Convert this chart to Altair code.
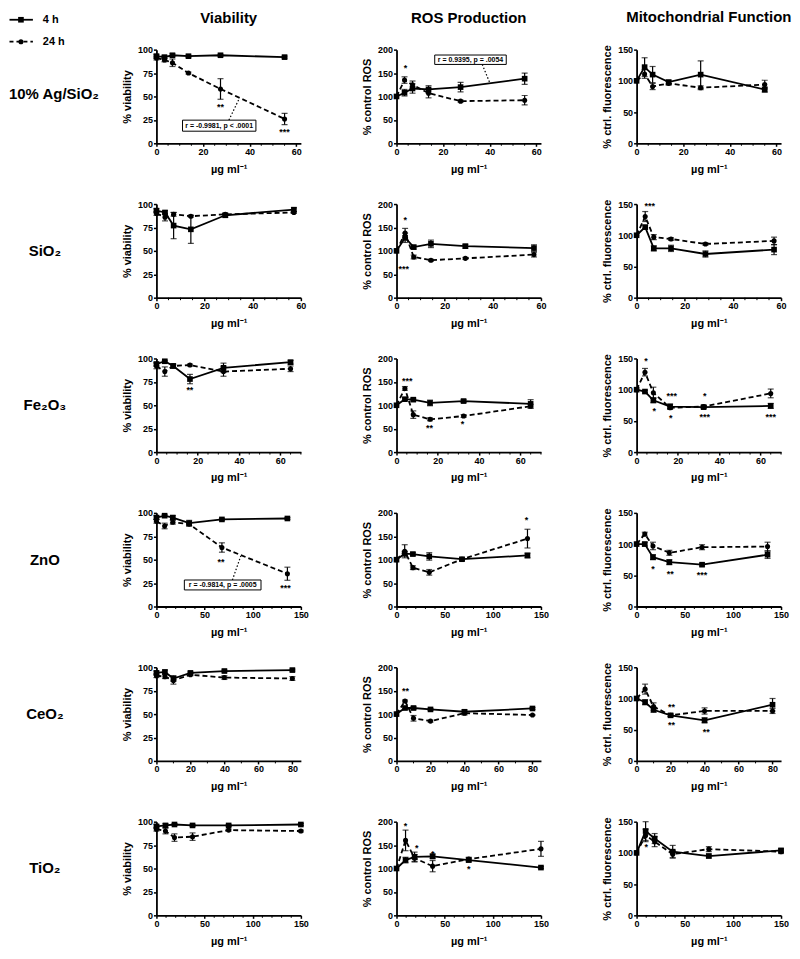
import altair as alt
import pandas as pd

FONT = "Liberation Sans"
PW, PH = 145, 94

MATERIALS = ["10% Ag/SiO₂", "SiO₂", "Fe₂O₃", "ZnO", "CeO₂", "TiO₂"]
ASSAYS = ["Viability", "ROS Production", "Mitochondrial Function"]
Y_TITLES = ["% viability", "% control ROS", "% ctrl. fluorescence"]
Y_DOMAINS = [[0, 100], [0, 200], [0, 150]]
Y_TICKS = [[0, 25, 50, 75, 100], [0, 50, 100, 150, 200], [0, 50, 100, 150]]
X_TITLE = "µg ml⁻¹"
LEGEND = ["4 h", "24 h"]

X_DOMAINS = [[0, 62], [0, 60], [0, 70], [0, 150], [0, 85], [0, 150]]
X_TICKS = [[0, 20, 40, 60], [0, 20, 40, 60], [0, 20, 40, 60],
           [0, 50, 100, 150], [0, 20, 40, 60, 80], [0, 50, 100, 150]]
X_MINOR = [[5, 10, 15, 25, 30, 35, 45, 50, 55],
           [5, 10, 15, 25, 30, 35, 45, 50, 55],
           [5, 10, 15, 25, 30, 35, 45, 50, 55, 65, 70],
           [10, 20, 30, 40, 60, 70, 80, 90, 110, 120, 130, 140],
           [10, 30, 50, 70],
           [10, 20, 30, 40, 60, 70, 80, 90, 110, 120, 130, 140]]

# ---- doses (µg/ml) ----
DOSE_AG = [0, 3.44, 6.875, 13.75, 27.5, 55]
DOSE_SI = [0, 3.57, 7.14, 14.3, 28.6, 57.1]
DOSE_FE = [0, 4.06, 8.125, 16.25, 32.5, 65]
DOSE_ZN = [0, 8.5, 17, 34, 68, 136]
DOSE_CE = [0, 5, 10, 20, 40, 80]
DOSE_TI = [0, 9.375, 18.75, 37.5, 75, 150]

# ---- 10% Ag/SiO2 ----
VIA_AG_4H = [93, 92, 94, 93, 94, 92]
VIA_AG_4H_ERR = [2, 1.5, 1.5, 1, 1, 1]
VIA_AG_24H = [91, 89, 86, 75, 58, 26]
VIA_AG_24H_ERR = [2, 2, 4, 1, 11, 6]
ROS_AG_4H = [100, 108, 117, 115, 120, 138]
ROS_AG_4H_ERR = [0, 7, 10, 8, 10, 12]
ROS_AG_24H = [100, 135, 125, 107, 90, 92]
ROS_AG_24H_ERR = [0, 7, 8, 10, 2, 10]
MIT_AG_4H = [100, 122, 110, 98, 110, 86]
MIT_AG_4H_ERR = [0, 15, 13, 3, 22, 4]
MIT_AG_24H = [100, 111, 91, 96, 89, 94]
MIT_AG_24H_ERR = [0, 7, 5, 3, 3, 7]

# ---- SiO2 ----
VIA_SI_4H = [93, 91, 77, 73, 88, 94]
VIA_SI_4H_ERR = [2, 2, 14, 15, 2, 2]
VIA_SI_24H = [90, 86, 89, 87, 89, 91]
VIA_SI_24H_ERR = [2, 4, 2, 1, 1, 1]
ROS_SI_4H = [100, 128, 108, 115, 110, 106]
ROS_SI_4H_ERR = [0, 10, 4, 8, 4, 7]
ROS_SI_24H = [100, 138, 87, 80, 84, 92]
ROS_SI_24H_ERR = [0, 10, 4, 2, 2, 5]
MIT_SI_4H = [100, 113, 79, 79, 70, 77]
MIT_SI_4H_ERR = [0, 3, 4, 5, 5, 8]
MIT_SI_24H = [100, 130, 97, 94, 86, 91]
MIT_SI_24H_ERR = [0, 8, 4, 2, 2, 6]

# ---- Fe2O3 ----
VIA_FE_4H = [94, 97, 92, 78, 90, 96]
VIA_FE_4H_ERR = [2, 1, 2, 5, 5, 2]
VIA_FE_24H = [92, 86, 92, 93, 86, 89]
VIA_FE_24H_ERR = [3, 5, 2, 1, 5, 3]
ROS_FE_4H = [100, 113, 112, 105, 109, 103]
ROS_FE_4H_ERR = [0, 3, 3, 6, 3, 9]
ROS_FE_24H = [100, 136, 80, 70, 77, 98]
ROS_FE_24H_ERR = [0, 4, 8, 3, 3, 4]
MIT_FE_4H = [100, 97, 83, 73, 72, 74]
MIT_FE_4H_ERR = [0, 2, 4, 4, 2, 4]
MIT_FE_24H = [100, 128, 95, 71, 73, 94]
MIT_FE_24H_ERR = [0, 6, 9, 2, 2, 7]

# ---- ZnO ----
VIA_ZN_4H = [95, 97, 95, 89, 93, 94]
VIA_ZN_4H_ERR = [2, 1, 2, 3, 1, 1]
VIA_ZN_24H = [91, 86, 90, 88, 63, 35]
VIA_ZN_24H_ERR = [2, 3, 2, 2, 5, 7]
ROS_ZN_4H = [100, 113, 112, 107, 101, 109]
ROS_ZN_4H_ERR = [0, 5, 3, 8, 3, 5]
ROS_ZN_24H = [100, 118, 83, 73, 101, 145]
ROS_ZN_24H_ERR = [0, 14, 4, 6, 3, 20]
MIT_ZN_4H = [100, 100, 79, 71, 67, 83]
MIT_ZN_4H_ERR = [0, 3, 4, 4, 2, 6]
MIT_ZN_24H = [100, 116, 97, 86, 95, 96]
MIT_ZN_24H_ERR = [0, 3, 6, 4, 4, 7]

# ---- CeO2 ----
VIA_CE_4H = [94, 95, 88, 94, 96, 97]
VIA_CE_4H_ERR = [2, 2, 3, 1, 1, 1]
VIA_CE_24H = [91, 90, 86, 92, 89, 88]
VIA_CE_24H_ERR = [2, 2, 4, 1, 2, 2]
ROS_CE_4H = [100, 113, 113, 110, 105, 112]
ROS_CE_4H_ERR = [0, 3, 3, 2, 4, 2]
ROS_CE_24H = [100, 128, 91, 85, 102, 98]
ROS_CE_24H_ERR = [0, 2, 6, 2, 4, 1]
MIT_CE_4H = [100, 94, 82, 73, 65, 90]
MIT_CE_4H_ERR = [0, 4, 4, 2, 4, 10]
MIT_CE_24H = [100, 115, 87, 73, 80, 80]
MIT_CE_24H_ERR = [0, 8, 6, 2, 5, 4]

# ---- TiO2 ----
VIA_TI_4H = [95, 96, 97, 96, 96, 97]
VIA_TI_4H_ERR = [2, 2, 1, 1, 1, 1]
VIA_TI_24H = [92, 90, 83, 84, 91, 90]
VIA_TI_24H_ERR = [2, 3, 4, 4, 1, 1]
ROS_TI_4H = [100, 118, 125, 126, 118, 102]
ROS_TI_4H_ERR = [0, 6, 10, 5, 4, 2]
ROS_TI_24H = [100, 160, 122, 105, 120, 142]
ROS_TI_24H_ERR = [0, 22, 8, 12, 4, 16]
MIT_TI_4H = [100, 135, 123, 102, 95, 104]
MIT_TI_4H_ERR = [0, 15, 8, 10, 3, 3]
MIT_TI_24H = [100, 128, 118, 98, 106, 102]
MIT_TI_24H_ERR = [0, 10, 8, 6, 4, 3]

# ---- significance marks (x, y, text) ----
STARS = {
    (0, 0): [(27.5, 39, "**"), (55, 12, "***")],
    (0, 1): [(3.8, 161, "*")],
    (1, 1): [(3.6, 165, "*"), (3.0, 62, "***")],
    (1, 2): [(5.5, 147, "***")],
    (2, 0): [(16.2, 66, "**")],
    (2, 1): [(5.2, 151, "***"), (16, 51, "**"), (32, 59, "*")],
    (2, 2): [(4.5, 146, "*"), (8.5, 66, "*"), (17, 90, "***"), (16.5, 55, "*"),
             (33, 90, "*"), (33, 56, "***"), (65, 56, "***")],
    (3, 0): [(67, 48, "**"), (134, 20, "***")],
    (3, 1): [(135, 185, "*")],
    (3, 2): [(17, 60, "*"), (35, 52, "**"), (68, 50, "***")],
    (4, 1): [(5.3, 150, "**")],
    (4, 2): [(20.6, 86, "**"), (20.6, 57, "**"), (41, 46, "**")],
    (5, 1): [(9.4, 190, "*"), (21, 143, "*"), (37.5, 130, "*"), (75, 98, "*")],
    (5, 2): [(10, 110, "*")],
}

# ---- correlation boxes: text, box x1,x2,y1,y2, leader x1,y1,x2,y2 ----
BOXES = {
    (0, 0): ("r = -0.9981, p < .0001", 11.2, 42.7, 12.9, 24.7, 31.1, 24.7, 35.4, 47),
    (0, 1): ("r = 0.9395, p = .0054", 16.4, 47.1, 168.4, 188.5, 36.8, 168.4, 40.2, 127),
    (3, 0): ("r = -0.9814, p = .0005", 29, 108.6, 17.7, 28.3, 78.9, 28.3, 87.6, 54),
}

DOSES = [DOSE_AG, DOSE_SI, DOSE_FE, DOSE_ZN, DOSE_CE, DOSE_TI]
VALUES = [
    [(VIA_AG_4H, VIA_AG_4H_ERR, VIA_AG_24H, VIA_AG_24H_ERR),
     (ROS_AG_4H, ROS_AG_4H_ERR, ROS_AG_24H, ROS_AG_24H_ERR),
     (MIT_AG_4H, MIT_AG_4H_ERR, MIT_AG_24H, MIT_AG_24H_ERR)],
    [(VIA_SI_4H, VIA_SI_4H_ERR, VIA_SI_24H, VIA_SI_24H_ERR),
     (ROS_SI_4H, ROS_SI_4H_ERR, ROS_SI_24H, ROS_SI_24H_ERR),
     (MIT_SI_4H, MIT_SI_4H_ERR, MIT_SI_24H, MIT_SI_24H_ERR)],
    [(VIA_FE_4H, VIA_FE_4H_ERR, VIA_FE_24H, VIA_FE_24H_ERR),
     (ROS_FE_4H, ROS_FE_4H_ERR, ROS_FE_24H, ROS_FE_24H_ERR),
     (MIT_FE_4H, MIT_FE_4H_ERR, MIT_FE_24H, MIT_FE_24H_ERR)],
    [(VIA_ZN_4H, VIA_ZN_4H_ERR, VIA_ZN_24H, VIA_ZN_24H_ERR),
     (ROS_ZN_4H, ROS_ZN_4H_ERR, ROS_ZN_24H, ROS_ZN_24H_ERR),
     (MIT_ZN_4H, MIT_ZN_4H_ERR, MIT_ZN_24H, MIT_ZN_24H_ERR)],
    [(VIA_CE_4H, VIA_CE_4H_ERR, VIA_CE_24H, VIA_CE_24H_ERR),
     (ROS_CE_4H, ROS_CE_4H_ERR, ROS_CE_24H, ROS_CE_24H_ERR),
     (MIT_CE_4H, MIT_CE_4H_ERR, MIT_CE_24H, MIT_CE_24H_ERR)],
    [(VIA_TI_4H, VIA_TI_4H_ERR, VIA_TI_24H, VIA_TI_24H_ERR),
     (ROS_TI_4H, ROS_TI_4H_ERR, ROS_TI_24H, ROS_TI_24H_ERR),
     (MIT_TI_4H, MIT_TI_4H_ERR, MIT_TI_24H, MIT_TI_24H_ERR)],
]


def series_df(dose, mean, err):
    return pd.DataFrame({
        "dose": dose,
        "mean": mean,
        "err": err,
        "lo": [m - e for m, e in zip(mean, err)],
        "hi": [m + e for m, e in zip(mean, err)],
    })


def panel(r, c):
    dose = DOSES[r]
    m4, e4, m24, e24 = VALUES[r][c]
    xs = alt.Scale(domain=X_DOMAINS[r], nice=False, zero=False)
    ys = alt.Scale(domain=Y_DOMAINS[c], nice=False, zero=False)

    def X(f):
        return alt.X(f, type="quantitative", scale=xs,
                     axis=alt.Axis(values=X_TICKS[r], title=X_TITLE))

    def Y(f):
        return alt.Y(f, type="quantitative", scale=ys,
                     axis=alt.Axis(values=Y_TICKS[c], title=Y_TITLES[c]))

    d4 = series_df(dose, m4, e4)
    d24 = series_df(dose, m24, e24)
    eb = pd.concat([d4, d24])
    eb = eb[eb["err"] > 0]
    caps = pd.DataFrame({"dose": list(eb["dose"]) * 2, "v": list(eb["lo"]) + list(eb["hi"])})

    layers = [
        alt.Chart(d24).mark_line(color="black", strokeWidth=1.8, strokeDash=[5, 3]).encode(
            x=X("dose"), y=Y("mean")),
        alt.Chart(d4).mark_line(color="black", strokeWidth=1.8).encode(x=X("dose"), y=Y("mean")),
        alt.Chart(eb).mark_rule(color="black", strokeWidth=1.2).encode(
            x=X("dose"), y=Y("lo"), y2=alt.Y2("hi")),
        alt.Chart(caps).mark_tick(orient="horizontal", size=6, thickness=1.2, color="black").encode(
            x=X("dose"), y=Y("v")),
        alt.Chart(d24).mark_point(shape="circle", filled=True, size=26, color="black", opacity=1).encode(
            x=X("dose"), y=Y("mean")),
        alt.Chart(d4).mark_point(shape="square", filled=True, size=32, color="black", opacity=1).encode(
            x=X("dose"), y=Y("mean")),
        alt.Chart(pd.DataFrame({"m": X_MINOR[r]})).mark_rule(color="black", strokeWidth=1).encode(
            x=X("m"), y=alt.value(PH), y2=alt.value(PH + 2.5)),
    ]
    if (r, c) in STARS:
        s = STARS[(r, c)]
        sdf = pd.DataFrame({"x": [a[0] for a in s], "y": [a[1] for a in s], "t": [a[2] for a in s]})
        layers.append(alt.Chart(sdf).mark_text(font=FONT, fontSize=9, fontWeight="bold", color="black",
                                               baseline="middle").encode(
            x=X("x"), y=Y("y"), text="t:N"))
    if (r, c) in BOXES:
        t, bx1, bx2, by1, by2, lx1, ly1, lx2, ly2 = BOXES[(r, c)]
        bdf = pd.DataFrame({"x1": [bx1], "x2": [bx2], "y1": [by1], "y2": [by2],
                            "xc": [(bx1 + bx2) / 2], "yc": [(by1 + by2) / 2], "t": [t],
                            "lx1": [lx1], "ly1": [ly1], "lx2": [lx2], "ly2": [ly2]})
        layers.append(alt.Chart(bdf).mark_rule(color="black", strokeWidth=1.2, strokeDash=[1.5, 2]).encode(
            x=X("lx1"), y=Y("ly1"), x2=alt.X2("lx2"), y2=alt.Y2("ly2")))
        layers.append(alt.Chart(bdf).mark_rect(fill="white", stroke="black", strokeWidth=1).encode(
            x=X("x1"), x2=alt.X2("x2"), y=Y("y1"), y2=alt.Y2("y2")))
        layers.append(alt.Chart(bdf).mark_text(font=FONT, fontSize=7, fontWeight="bold", color="black",
                                               baseline="middle").encode(
            x=X("xc"), y=Y("yc"), text="t:N"))
    ch = alt.layer(*layers).properties(width=PW, height=PH)
    if r == 0:
        ch = ch.properties(title=alt.TitleParams(
            text=ASSAYS[c], font=FONT, fontSize=15, fontWeight="bold", color="black",
            frame="group", anchor="middle", offset=20))
    return ch


def label_cell(r):
    one = pd.DataFrame({"t": [MATERIALS[r]]})
    if r == 0:
        lab = alt.Chart(one).mark_text(font=FONT, fontSize=15, fontWeight="bold", color="black",
                                       align="left", baseline="middle").encode(
            x=alt.value(0), y=alt.value(45), text="t:N")
        layers = [lab]
        # top-left anchor (invisible)
        layers.append(alt.Chart(one).mark_rule(color="white", strokeWidth=1).encode(
            x=alt.value(0.5), x2=alt.value(1.5), y=alt.value(-36)))
        ys_leg = [-30, -8]
        for i, name in enumerate(LEGEND):
            ldf = pd.DataFrame({"t": [name]})
            rule_kw = dict(color="black", strokeWidth=1.8)
            if i == 1:
                rule_kw["strokeDash"] = [4, 3]
            layers.append(alt.Chart(ldf).mark_rule(**rule_kw).encode(
                x=alt.value(0.5), x2=alt.value(24), y=alt.value(ys_leg[i])))
            layers.append(alt.Chart(ldf).mark_point(
                shape="square" if i == 0 else "circle", filled=True, opacity=1,
                size=32 if i == 0 else 26, color="black").encode(
                x=alt.value(12), y=alt.value(ys_leg[i])))
            layers.append(alt.Chart(ldf).mark_text(font=FONT, fontSize=11, fontWeight="bold", color="black",
                                                   align="left", baseline="middle").encode(
                x=alt.value(34), y=alt.value(ys_leg[i]), text="t:N"))
        return alt.layer(*layers).properties(width=52, height=PH)
    return alt.Chart(one).mark_text(font=FONT, fontSize=15, fontWeight="bold", color="black",
                                    align="center", baseline="middle").encode(
        x=alt.value(36), y=alt.value(47), text="t:N").properties(width=52, height=PH)


cells = []
for r in range(6):
    cells.append(label_cell(r))
    for c in range(3):
        cells.append(panel(r, c))

chart = alt.concat(*cells, columns=4, bounds="flush",
                   spacing={"row": 61, "column": 96}).properties(padding=0)

chart = chart.configure_view(stroke=None).configure_axis(
    grid=False,
    domainColor="black", domainWidth=1.8,
    tickColor="black", tickWidth=1.5, tickSize=3,
    labelFont=FONT, labelFontSize=9, labelFontWeight="bold", labelColor="black", labelPadding=1,
    titleFont=FONT, titleFontSize=11, titleFontWeight="bold", titleColor="black",
).configure_axisX(titlePadding=7, labelFlush=False).configure_axisY(
    titlePadding=5, minExtent=19, maxExtent=19)

chart.save("out.html", embed_options={"renderer": "svg", "actions": False})
